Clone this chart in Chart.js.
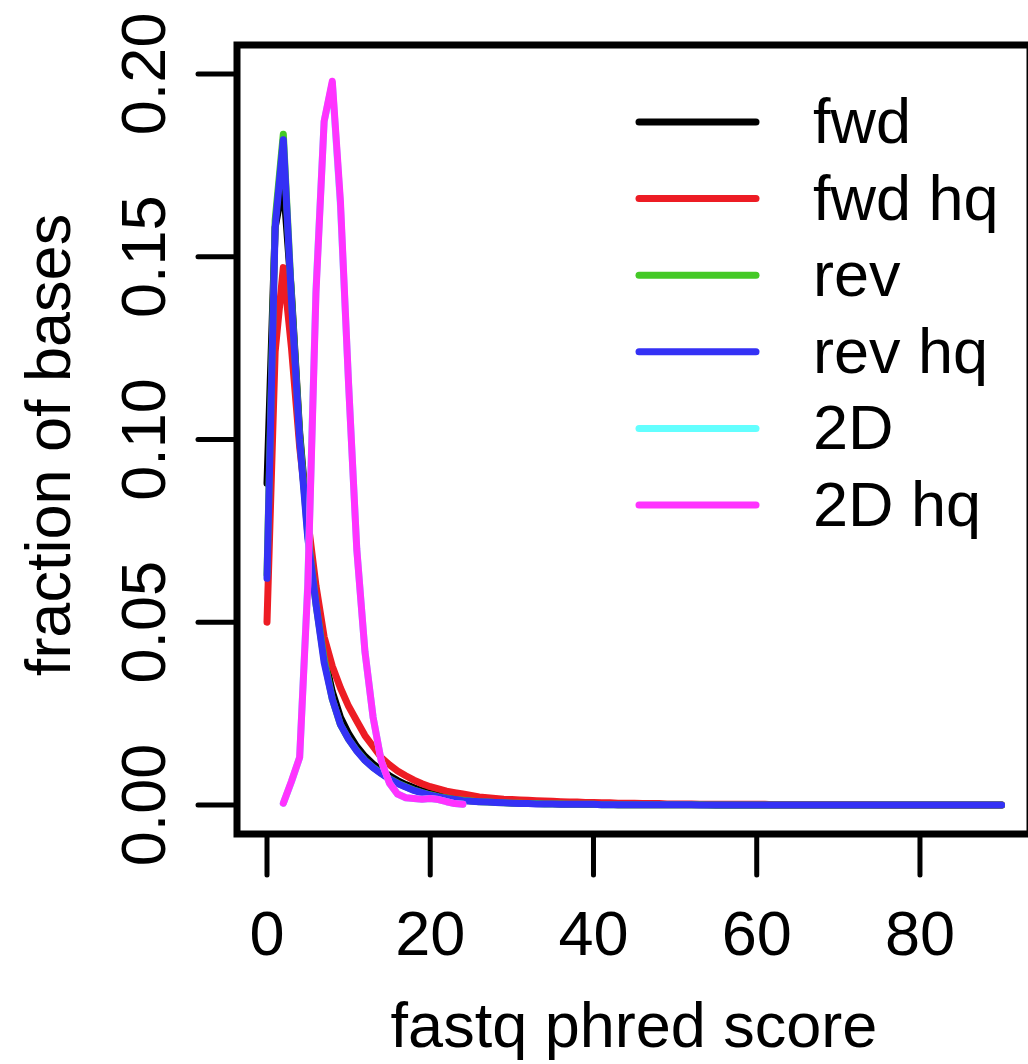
<!DOCTYPE html>
<html>
<head>
<meta charset="utf-8">
<script src="https://cdn.jsdelivr.net/npm/chart.js@4.4.1/dist/chart.umd.min.js"></script>
<style>
    html, body { margin: 0; padding: 0; background: #fff; overflow: hidden; }
    #wrap { width: 1031px; height: 1064px; position: relative; }
</style>
</head>
<body>
<div id="wrap"><canvas id="qualChart"></canvas></div>
<script>
// phred score bins
const phred = [
    0, 1, 2, 3, 4, 5, 6, 7, 8, 9,
    10, 11, 12, 13, 14, 15, 16, 17, 18, 19,
    20, 21, 22, 23, 24, 25, 26, 27, 28, 29,
    30, 31, 32, 33, 34, 35, 36, 37, 38, 39,
    40, 41, 42, 43, 44, 45, 46, 47, 48, 49,
    50, 51, 52, 53, 54, 55, 56, 57, 58, 59,
    60, 61, 62, 63, 64, 65, 66, 67, 68, 69,
    70, 71, 72, 73, 74, 75, 76, 77, 78, 79,
    80, 81, 82, 83, 84, 85, 86, 87, 88, 89,
    90
];
const phred2D = [2, 3, 4, 5, 6, 7, 8, 9, 10, 11, 12, 13, 14, 15, 16, 17, 18, 19, 20, 21, 22, 23, 24];

const fwd = [
    0.088, 0.158, 0.170, 0.140, 0.102, 0.076, 0.057, 0.041, 0.031, 0.024,
    0.0195, 0.0160, 0.0133, 0.0112, 0.0095, 0.0080, 0.0067, 0.0056, 0.0047, 0.0039,
    0.0033, 0.0028, 0.0023, 0.0019, 0.0016, 0.0013, 0.0011, 0.0010, 0.0009, 0.0008,
    0.0007, 0.0006, 0.0005, 0.0005, 0.0004, 0.0004, 0.0003, 0.0003, 0.0003, 0.0002,
    0.0002, 0.0002, 0.0002, 0.0001, 0.0001, 0.0001, 0.0001, 0.0001, 0.0001, 0.0001,
    0.0001, 0.0001, 0.0001, 0.0001, 0.0001, 0, 0, 0, 0, 0,
    0, 0, 0, 0, 0, 0, 0, 0, 0, 0,
    0, 0, 0, 0, 0, 0, 0, 0, 0, 0,
    0, 0, 0, 0, 0, 0, 0, 0, 0, 0,
    0
];
const fwdHq = [
    0.050, 0.124, 0.147, 0.125, 0.098, 0.078, 0.060, 0.046, 0.038, 0.032,
    0.027, 0.023, 0.019, 0.016, 0.013, 0.011, 0.0093, 0.0080, 0.0068, 0.0058,
    0.0050, 0.0044, 0.0038, 0.0034, 0.0030, 0.0026, 0.0022, 0.0020, 0.0018, 0.0016,
    0.0015, 0.0014, 0.0013, 0.0012, 0.0011, 0.0010, 0.0009, 0.0008, 0.0008, 0.0007,
    0.0007, 0.0006, 0.0006, 0.0005, 0.0005, 0.0005, 0.0004, 0.0004, 0.0004, 0.0003,
    0.0003, 0.0003, 0.0003, 0.0002, 0.0002, 0.0002, 0.0002, 0.0002, 0.0002, 0.0002,
    0.0002, 0.0002, 0.0001, 0.0001, 0.0001, 0.0001, 0.0001, 0.0001, 0.0001, 0.0001,
    0.0001, 0.0001, 0.0001, 0.0001, 0.0001, 0, 0, 0, 0, 0,
    0, 0, 0, 0, 0, 0, 0, 0, 0, 0,
    0
];
const rev = [
    0.063, 0.160, 0.1835, 0.139, 0.101, 0.074, 0.055, 0.040, 0.029, 0.022,
    0.018, 0.0149, 0.0123, 0.0103, 0.0087, 0.0072, 0.0060, 0.0050, 0.0041, 0.0034,
    0.0028, 0.0023, 0.0019, 0.0015, 0.0013, 0.0011, 0.0009, 0.0008, 0.0007, 0.0006,
    0.0005, 0.0005, 0.0004, 0.0004, 0.0003, 0.0003, 0.0003, 0.0002, 0.0002, 0.0002,
    0.0002, 0.0001, 0.0001, 0.0001, 0.0001, 0.0001, 0.0001, 0.0001, 0.0001, 0.0001,
    0.0001, 0.0001, 0.0001, 0.0001, 0, 0, 0, 0, 0, 0,
    0, 0, 0, 0, 0, 0, 0, 0, 0, 0,
    0, 0, 0, 0, 0, 0, 0, 0, 0, 0,
    0, 0, 0, 0, 0, 0, 0, 0, 0, 0,
    0
];
const revHq = [
    0.062, 0.158, 0.182, 0.138, 0.100, 0.073, 0.055, 0.039, 0.029, 0.022,
    0.018, 0.0148, 0.0122, 0.0102, 0.0086, 0.0071, 0.0059, 0.0049, 0.0040, 0.0033,
    0.0027, 0.0022, 0.0018, 0.0015, 0.0012, 0.0010, 0.0009, 0.0008, 0.0007, 0.0006,
    0.0005, 0.0004, 0.0004, 0.0003, 0.0003, 0.0003, 0.0002, 0.0002, 0.0002, 0.0002,
    0.0002, 0.0001, 0.0001, 0.0001, 0.0001, 0.0001, 0.0001, 0.0001, 0.0001, 0.0001,
    0.0001, 0.0001, 0.0001, 0, 0, 0, 0, 0, 0, 0,
    0, 0, 0, 0, 0, 0, 0, 0, 0, 0,
    0, 0, 0, 0, 0, 0, 0, 0, 0, 0,
    0, 0, 0, 0, 0, 0, 0, 0, 0, 0,
    0
];
const twoD = [
    0.0005, 0.0064, 0.013, 0.061, 0.141, 0.187, 0.1975, 0.164, 0.115, 0.070,
    0.042, 0.024, 0.012, 0.006, 0.003, 0.002, 0.0018, 0.0016, 0.0018, 0.0015,
    0.0009, 0.0004, 0.0002
];
const twoDHq = [
    0.0005, 0.0065, 0.013, 0.060, 0.140, 0.187, 0.198, 0.165, 0.115, 0.070,
    0.042, 0.024, 0.012, 0.006, 0.003, 0.002, 0.0018, 0.0016, 0.0018, 0.0015,
    0.0009, 0.0004, 0.0002
];

const seriesNames = ['fwd', 'fwd hq', 'rev', 'rev hq', '2D', '2D hq'];
const seriesColors = ['#000000', '#ED1C24', '#44C926', '#3431F5', '#63FFFF', '#FF33FF'];
const xTicks = [0, 20, 40, 60, 80];
const yTicks = [0, 0.05, 0.10, 0.15, 0.20];
const yTickLabels = ['0.00', '0.05', '0.10', '0.15', '0.20'];

const FONT = '63px "Liberation Sans", Arial, Helvetica, sans-serif';

function toPoints(xs, ys) {
    return xs.map((x, i) => ({ x: x, y: ys[i] }));
}

const seriesData = [
    toPoints(phred, fwd),
    toPoints(phred, fwdHq),
    toPoints(phred, rev),
    toPoints(phred, revHq),
    toPoints(phred2D, twoD),
    toPoints(phred2D, twoDHq)
];

// R-style frame, ticks, labels and legend
const baseFrame = {
    id: 'baseFrame',
    beforeDraw(chart) {
        const ctx = chart.ctx;
        ctx.save();
        ctx.fillStyle = '#ffffff';
        ctx.fillRect(0, 0, chart.width, chart.height);
        ctx.restore();
    },
    afterDraw(chart) {
        const ctx = chart.ctx;
        const area = chart.chartArea;
        const xs = chart.scales.x;
        const ys = chart.scales.y;

        ctx.save();
        ctx.strokeStyle = '#000';
        ctx.fillStyle = '#000';

        // box
        ctx.lineWidth = 7;
        ctx.lineJoin = 'miter';
        ctx.strokeRect(area.left, area.top, area.right - area.left, area.bottom - area.top);

        // ticks
        ctx.lineWidth = 5;
        ctx.lineCap = 'round';
        xTicks.forEach(v => {
            const px = xs.getPixelForValue(v);
            ctx.beginPath();
            ctx.moveTo(px, area.bottom);
            ctx.lineTo(px, area.bottom + 41);
            ctx.stroke();
        });
        yTicks.forEach(v => {
            const py = ys.getPixelForValue(v);
            ctx.beginPath();
            ctx.moveTo(area.left, py);
            ctx.lineTo(area.left - 39, py);
            ctx.stroke();
        });

        // tick labels
        ctx.font = FONT;
        ctx.textAlign = 'center';
        ctx.textBaseline = 'alphabetic';
        xTicks.forEach(v => {
            ctx.fillText(String(v), xs.getPixelForValue(v), 955);
        });
        yTicks.forEach((v, i) => {
            ctx.save();
            ctx.translate(165, ys.getPixelForValue(v));
            ctx.rotate(-Math.PI / 2);
            ctx.fillText(yTickLabels[i], 0, 0);
            ctx.restore();
        });

        // axis titles
        ctx.fillText('fastq phred score', 634, 1047);
        ctx.save();
        ctx.translate(70, 445);
        ctx.rotate(-Math.PI / 2);
        ctx.fillText('fraction of bases', 0, 0);
        ctx.restore();

        // legend
        ctx.textAlign = 'left';
        chart.data.datasets.forEach((ds, i) => {
            const rowY = 122 + i * 76.6;
            ctx.strokeStyle = ds.borderColor;
            ctx.lineWidth = 7;
            ctx.beginPath();
            ctx.moveTo(639, rowY);
            ctx.lineTo(756, rowY);
            ctx.stroke();
            ctx.fillStyle = '#000';
            ctx.fillText(ds.label, 813, rowY + 21);
        });

        ctx.restore();
    }
};

const datasets = seriesNames.map((name, i) => ({
    label: name,
    data: seriesData[i],
    borderColor: seriesColors[i],
    backgroundColor: seriesColors[i],
    borderWidth: 7,
    borderCapStyle: 'round',
    borderJoinStyle: 'round',
    pointRadius: 0,
    tension: 0,
    fill: false,
    order: seriesNames.length - i
}));

new Chart(document.getElementById('qualChart'), {
    type: 'line',
    data: { datasets },
    options: {
        responsive: true,
        maintainAspectRatio: false,
        animation: false,
        layout: {
            padding: { left: 237, top: 45, right: 1, bottom: 230 }
        },
        plugins: {
            legend: { display: false },
            tooltip: { enabled: false }
        },
        scales: {
            x: { type: 'linear', display: false, min: -3.675, max: 93.48 },
            y: { type: 'linear', display: false, min: -0.00793, max: 0.2079 }
        }
    },
    plugins: [baseFrame]
});
</script>
</body>
</html>
